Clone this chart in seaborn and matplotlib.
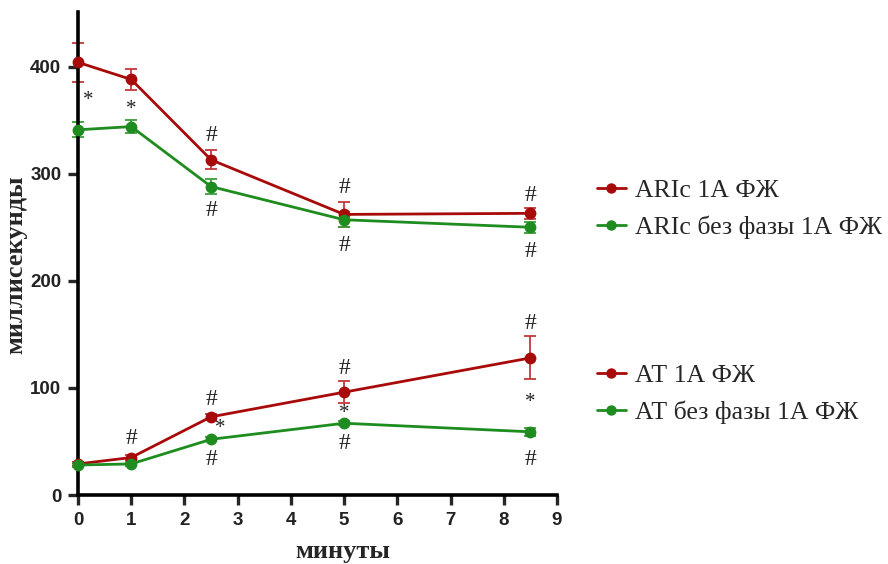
import matplotlib
matplotlib.use("Agg")
import matplotlib.pyplot as plt
from matplotlib.lines import Line2D
import numpy as np
import pandas as pd
import seaborn as sns

# Time points (minutes)
minutes = [0, 1, 2.5, 5, 8.5]

# Series means and SEM (ms)
aric_1a = [404, 388, 313, 262, 263]
aric_1a_err = [18, 10, 9, 12, 5]
aric_no = [341, 344, 288, 257, 250]
aric_no_err = [7, 6, 7, 7, 5]
at_1a = [29, 35, 73, 96, 128]
at_1a_err = [2, 2, 3, 10.5, 20]
at_no = [28, 29, 52, 67, 59]
at_no_err = [1.5, 1.5, 2, 2, 4]

series_names = ["ARIc 1А ФЖ", "ARIc без фазы 1А ФЖ", "АТ 1А ФЖ", "АТ без фазы 1А ФЖ"]

# Significance marks: symbol, x, y
mark_text = ["*", "*", "#", "#", "#", "#", "#", "#",
             "#", "#", "*", "#", "#", "*", "#", "#", "*", "#"]
mark_x = [0.2, 1, 2.5, 2.5, 5, 5, 8.5, 8.5,
          1, 2.5, 2.68, 2.5, 5, 5, 5, 8.5, 8.5, 8.5]
mark_y = [368, 360, 336, 266, 287, 233, 280, 227,
          53, 89, 62, 33, 118, 76, 48, 160, 86, 33]

red = "#A80A0A"
green = "#1E8C1E"
err_red = "#C0393B"
err_green = "#3A9E3A"

sns.set_style("ticks")
plt.rcParams["font.family"] = ["Liberation Sans", "DejaVu Sans"]

fig = plt.figure(figsize=(8.88, 5.64), dpi=100)
ax = fig.add_axes([78 / 888, 1 - 495 / 564, (557 - 78) / 888, (495 - 12) / 564])

df = pd.DataFrame({
    "minutes": minutes * 4,
    "value": aric_1a + aric_no + at_1a + at_no,
    "series": sum([[s] * len(minutes) for s in series_names], []),
})
palette = {series_names[0]: red, series_names[1]: green,
           series_names[2]: red, series_names[3]: green}

for vals, errs, c in [(aric_1a, aric_1a_err, err_red), (aric_no, aric_no_err, err_green),
                      (at_1a, at_1a_err, err_red), (at_no, at_no_err, err_green)]:
    eb = ax.errorbar(minutes, vals, yerr=errs, fmt="none", ecolor=c, elinewidth=1.3,
                     capsize=4, capthick=1.3, zorder=2)
    for art in eb.get_children():
        art.set_clip_on(False)

sns.lineplot(data=df, x="minutes", y="value", hue="series", palette=palette,
             marker="o", markersize=8.5, markeredgewidth=0, linewidth=2,
             errorbar=None, legend=False, ax=ax, zorder=3)
for line in ax.lines:
    line.set_clip_on(False)

for t, x, y in zip(mark_text, mark_x, mark_y):
    ax.text(x, y, t, ha="center", va="center", fontsize=17 if t == "#" else 15,
            family="Liberation Serif", color="#222222")

ax.set_xlim(0, 9)
ax.set_ylim(0, 451)
ax.set_xticks(range(10))
ax.set_yticks([0, 100, 200, 300, 400])
ax.tick_params(width=2.4, length=7, labelsize=13.5, direction="out", pad=5)
for lab in ax.get_xticklabels() + ax.get_yticklabels():
    lab.set_fontweight("bold")
    lab.set_color("#222222")
for s in ["left", "bottom"]:
    ax.spines[s].set_linewidth(2.6)
    ax.spines[s].set_color("black")
sns.despine(ax=ax)

ax.set_xlabel("минуты", fontsize=19, fontweight="bold", family="Liberation Serif")
ax.set_ylabel("миллисекунды", fontsize=19, fontweight="bold", family="Liberation Serif")
ax.xaxis.set_label_coords(0.553, -0.093)
ax.yaxis.set_label_coords(-0.105, 0.476)

def handle(c):
    return Line2D([0], [0], color=c, linewidth=2, marker="o", markersize=7.5, markeredgewidth=0)

leg_kw = dict(frameon=False, handlelength=1.1, handletextpad=0.35, labelspacing=0.55,
              prop={"family": "Liberation Serif", "size": 18.5}, loc="center left", borderaxespad=0)
leg1 = fig.legend([handle(red), handle(green)], series_names[:2],
                  bbox_to_anchor=(587 / 888, 1 - 209 / 564), **leg_kw)
leg2 = fig.legend([handle(red), handle(green)], series_names[2:],
                  bbox_to_anchor=(587 / 888, 1 - 394 / 564), **leg_kw)

fig.savefig("out.png", dpi=100)
